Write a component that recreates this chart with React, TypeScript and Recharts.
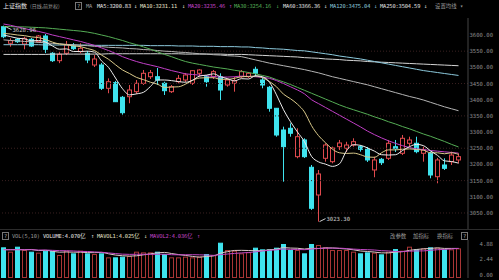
import { ComposedChart, Bar, Line, XAxis, YAxis, ReferenceLine, ReferenceDot } from 'recharts';

// daily candles, 上证指数
const opens = [
  3625.6, 3574.4, 3586.7, 3572.2, 3586.7, 3579.3, 3596.9, 3543.5, 3520.6, 3543.5,
  3566.0, 3548.4, 3543.5, 3507.3, 3507.3, 3435.3, 3452.6, 3407.5, 3409.3, 3424.8,
  3450.7, 3471.1, 3471.1, 3450.7, 3424.8, 3455.7, 3460.9, 3450.7, 3481.6, 3471.1,
  3471.1, 3471.1, 3445.5, 3450.7, 3471.1, 3471.1, 3494.0, 3461.0, 3438.4, 3373.5,
  3306.4, 3311.7, 3224.0, 3275.6, 3191.2, 3105.6, 3219.0, 3208.5, 3254.8, 3250.0,
  3260.0, 3254.8, 3246.8, 3182.9, 3215.9, 3219.0, 3254.8, 3234.5, 3265.4, 3265.4,
  3234.5, 3234.5, 3162.1, 3198.3, 3208.5, 3213.8,
];
const highs = [
  3628.96, 3589.8, 3590.7, 3594.7, 3590.7, 3600.0, 3603.0, 3547.0, 3547.0, 3581.5,
  3575.0, 3574.4, 3550.6, 3538.0, 3513.5, 3466.0, 3458.0, 3411.5, 3445.5, 3461.0,
  3491.8, 3491.8, 3498.0, 3455.7, 3445.5, 3476.4, 3482.6, 3491.8, 3494.0, 3476.4,
  3491.8, 3481.6, 3466.0, 3471.0, 3491.8, 3485.7, 3502.0, 3471.0, 3442.4, 3374.4,
  3316.7, 3327.0, 3311.7, 3280.8, 3198.3, 3182.8, 3265.4, 3255.0, 3275.6, 3270.0,
  3280.8, 3260.0, 3254.0, 3224.0, 3220.0, 3275.6, 3275.6, 3291.0, 3285.7, 3285.7,
  3254.8, 3239.5, 3220.0, 3219.0, 3239.5, 3234.5,
];
const lows = [
  3590.0, 3563.8, 3575.3, 3555.8, 3563.0, 3576.0, 3544.0, 3516.6, 3513.0, 3538.0,
  3553.6, 3543.5, 3513.0, 3501.0, 3430.0, 3420.0, 3393.0, 3353.7, 3389.0, 3417.7,
  3445.5, 3464.0, 3445.5, 3414.6, 3420.8, 3450.7, 3454.8, 3445.5, 3471.0, 3440.3,
  3464.0, 3399.0, 3440.3, 3424.8, 3467.0, 3467.0, 3471.0, 3435.3, 3363.0, 3285.7,
  3146.7, 3285.7, 3219.0, 3220.0, 3059.3, 3023.3, 3208.5, 3203.5, 3244.6, 3238.0,
  3254.8, 3239.5, 3207.6, 3160.4, 3198.3, 3213.8, 3238.5, 3229.0, 3254.8, 3234.5,
  3208.5, 3157.2, 3141.8, 3182.8, 3198.3, 3203.5,
];
const closes = [
  3594.7, 3582.4, 3579.3, 3589.8, 3566.0, 3596.9, 3555.8, 3520.6, 3540.4, 3569.0,
  3557.7, 3558.9, 3522.8, 3525.8, 3435.3, 3455.7, 3393.9, 3359.9, 3430.0, 3450.7,
  3481.6, 3483.5, 3460.9, 3427.9, 3440.3, 3466.0, 3476.4, 3489.7, 3491.8, 3455.7,
  3486.6, 3430.0, 3461.0, 3458.9, 3486.6, 3481.6, 3481.6, 3445.5, 3373.5, 3291.0,
  3255.0, 3296.3, 3285.7, 3224.0, 3064.5, 3170.5, 3260.0, 3250.8, 3266.3, 3260.0,
  3270.3, 3246.8, 3213.8, 3213.8, 3205.4, 3265.4, 3250.0, 3280.8, 3275.6, 3239.5,
  3244.6, 3167.4, 3213.8, 3188.0, 3229.0, 3224.0,
];

const ma5 = [
  3600, 3595, 3590, 3588, 3582, 3583, 3578, 3566, 3556, 3557,
  3549, 3549, 3550, 3547, 3520, 3500, 3467, 3434, 3415, 3418,
  3423, 3441, 3461, 3461, 3459, 3456, 3454, 3460, 3473, 3476,
  3480, 3471, 3465, 3458, 3465, 3464, 3474, 3471, 3454, 3415,
  3369, 3332, 3300, 3270, 3225, 3208, 3201, 3194, 3202, 3242,
  3261, 3259, 3251, 3241, 3230, 3229, 3230, 3243, 3255, 3262,
  3258, 3242, 3228, 3211, 3209, 3204,
];
const ma10 = [
  3605, 3603, 3600, 3598, 3594, 3592, 3586, 3578, 3572, 3570,
  3566, 3564, 3558, 3552, 3538, 3525, 3508, 3492, 3481, 3469,
  3462, 3454, 3448, 3438, 3439, 3440, 3448, 3460, 3467, 3468,
  3468, 3463, 3463, 3466, 3471, 3472, 3473, 3468, 3456, 3440,
  3417, 3403, 3386, 3362, 3320, 3289, 3267, 3247, 3236, 3234,
  3235, 3230, 3223, 3222, 3236, 3245, 3245, 3247, 3248, 3246,
  3244, 3236, 3236, 3233, 3236, 3231,
];
const ma20 = [
  3634, 3630, 3625, 3620, 3615, 3611, 3606, 3600, 3595, 3590,
  3585, 3580, 3574, 3568, 3560, 3552, 3543, 3533, 3525, 3518,
  3512, 3507, 3502, 3496, 3490, 3485, 3480, 3478, 3476, 3474,
  3472, 3470, 3470, 3471, 3473, 3472, 3471, 3469, 3466, 3459,
  3450, 3440, 3430, 3418, 3400, 3388, 3376, 3364, 3352, 3340,
  3328, 3316, 3303, 3292, 3282, 3273, 3265, 3258, 3252, 3248,
  3246, 3243, 3241, 3239, 3237, 3235,
];
const ma30 = [
  3626, 3626, 3625, 3625, 3624, 3623, 3622, 3620, 3618, 3616,
  3614, 3612, 3609, 3605, 3600, 3595, 3589, 3583, 3576, 3570,
  3563, 3556, 3548, 3540, 3533, 3525, 3518, 3513, 3509, 3505,
  3501, 3498, 3495, 3491, 3488, 3484, 3480, 3475, 3470, 3462,
  3455, 3447, 3438, 3429, 3420, 3411, 3402, 3393, 3384, 3376,
  3369, 3362, 3355, 3347, 3340, 3332, 3325, 3317, 3310, 3302,
  3294, 3287, 3279, 3271, 3262, 3254,
];
const ma60 = [
  3585, 3583, 3582, 3580, 3579, 3577, 3576, 3574, 3573, 3571,
  3570, 3568, 3567, 3565, 3564, 3562, 3561, 3560, 3558, 3557,
  3555, 3554, 3552, 3550, 3549, 3547, 3546, 3544, 3542, 3541,
  3539, 3538, 3536, 3535, 3533, 3528, 3523, 3518, 3513, 3509,
  3505, 3501, 3497, 3493, 3488, 3483, 3477, 3471, 3466, 3461,
  3456, 3451, 3446, 3440, 3434, 3428, 3422, 3416, 3410, 3405,
  3399, 3392, 3385, 3378, 3372, 3366,
];
const ma120 = [
  3570, 3570, 3570, 3570, 3570, 3570, 3569, 3569, 3569, 3569,
  3569, 3569, 3569, 3568, 3568, 3568, 3568, 3568, 3568, 3568,
  3568, 3567, 3567, 3567, 3567, 3566, 3566, 3566, 3565, 3565,
  3565, 3564, 3564, 3564, 3563, 3563, 3561, 3560, 3558, 3557,
  3556, 3554, 3552, 3551, 3548, 3545, 3542, 3539, 3535, 3532,
  3529, 3526, 3522, 3518, 3514, 3510, 3506, 3502, 3498, 3494,
  3490, 3487, 3484, 3481, 3478, 3475,
];
const ma250 = [
  3540, 3540, 3540, 3540, 3540, 3540, 3540, 3541, 3541, 3541,
  3541, 3541, 3541, 3541, 3541, 3542, 3542, 3542, 3542, 3542,
  3542, 3542, 3542, 3542, 3542, 3542, 3541, 3541, 3541, 3541,
  3541, 3541, 3540, 3540, 3540, 3539, 3538, 3537, 3536, 3535,
  3534, 3533, 3532, 3530, 3529, 3528, 3526, 3525, 3524, 3522,
  3521, 3520, 3518, 3517, 3516, 3515, 3514, 3513, 3512, 3511,
  3510, 3509, 3508, 3507, 3506, 3505,
];

// volume (亿)
const volumes = [
  4.99, 4.28, 5.09, 4.55, 4.28, 4.12, 4.44, 4.39, 3.74, 4.44,
  4.01, 4.44, 4.01, 3.90, 4.01, 3.36, 3.36, 3.47, 3.58, 4.28,
  4.17, 4.17, 4.28, 3.90, 3.36, 3.36, 3.47, 3.36, 3.47, 3.90,
  3.74, 5.74, 4.55, 4.44, 4.01, 4.20, 4.93, 4.66, 4.66, 4.93,
  5.53, 4.55, 4.55, 4.01, 5.53, 5.37, 4.99, 4.55, 4.55, 4.55,
  4.28, 4.01, 4.17, 4.12, 3.85, 4.28, 4.71, 4.44, 5.09, 4.66,
  4.82, 4.99, 4.93, 4.66, 4.66, 4.82,
];
const mavol1 = [
  4.60, 4.60, 4.60, 4.60, 4.64, 4.46, 4.50, 4.36, 4.20, 4.23,
  4.20, 4.20, 4.13, 4.12, 4.16, 3.94, 3.73, 3.62, 3.56, 3.61,
  3.77, 3.93, 4.10, 4.16, 3.98, 3.81, 3.67, 3.51, 3.40, 3.51,
  3.59, 4.04, 4.28, 4.48, 4.50, 4.47, 4.43, 4.45, 4.60, 4.68,
  4.94, 4.87, 4.84, 4.71, 4.83, 4.80, 4.89, 4.89, 4.80, 4.72,
  4.58, 4.39, 4.31, 4.22, 4.09, 4.08, 4.22, 4.28, 4.50, 4.64,
  4.74, 4.80, 4.90, 4.81, 4.81, 4.81,
];
const mavol2 = [
  4.60, 4.60, 4.60, 4.60, 4.60, 4.55, 4.55, 4.50, 4.45, 4.43,
  4.40, 4.33, 4.31, 4.24, 4.19, 4.08, 3.97, 3.88, 3.84, 3.86,
  3.86, 3.84, 3.86, 3.86, 3.79, 3.77, 3.78, 3.79, 3.77, 3.73,
  3.68, 3.80, 3.90, 4.00, 4.08, 4.14, 4.25, 4.40, 4.50, 4.58,
  4.72, 4.66, 4.64, 4.60, 4.71, 4.79, 4.85, 4.85, 4.85, 4.78,
  4.70, 4.64, 4.60, 4.55, 4.44, 4.40, 4.30, 4.30, 4.36, 4.40,
  4.41, 4.51, 4.60, 4.65, 4.73, 4.81,
];

const priceTicks = [3050, 3100, 3150, 3200, 3250, 3300, 3350, 3400, 3450, 3500, 3550, 3600];
const gridLevels = [3050, 3150, 3250, 3350, 3450, 3550];
const volTicks = [0, 2.44, 4.88];

const CYAN = '#3fe3ee';
const RED = '#e04a4e';
const VOL_RED = '#a83535';
const MONO = '"DejaVu Sans Mono", "Noto Sans CJK SC", monospace';
const CJK = '"Noto Sans CJK SC", "DejaVu Sans", sans-serif';

const rows = closes.map((c, i) => ({
  i,
  open: opens[i],
  high: highs[i],
  low: lows[i],
  close: c,
  range: [lows[i], highs[i]],
  ma5: ma5[i],
  ma10: ma10[i],
  ma20: ma20[i],
  ma30: ma30[i],
  ma60: ma60[i],
  ma120: ma120[i],
  ma250: ma250[i],
  vol: volumes[i],
  mavol1: mavol1[i],
  mavol2: mavol2[i],
}));

function Candle(props: any) {
  const { x, y, width, height, payload } = props;
  const { open, close, high, low } = payload;
  const top = Math.min(y, y + height);
  const h = Math.abs(height);
  const py = (p: number) => top + ((high - p) / (high - low)) * h;
  const left = Math.round(x);
  const cx = left + 2.5;
  const up = close >= open;
  const color = up ? RED : CYAN;
  const bTop = py(Math.max(open, close));
  const bh = Math.max(1, py(Math.min(open, close)) - bTop);
  return (
    <g>
      <line x1={cx} x2={cx} y1={top} y2={top + h} stroke={color} strokeWidth={1} />
      <rect x={left + 0.5} y={bTop} width={width - 1} height={bh} fill={up ? '#000' : CYAN} stroke={color} strokeWidth={1} />
    </g>
  );
}

function VolBar(props: any) {
  const { x, y, width, height, payload } = props;
  const up = payload.close >= payload.open;
  const left = Math.round(x);
  return (
    <rect
      x={left + 0.5}
      y={y + 0.5}
      width={width - 1}
      height={Math.max(1, height - 1)}
      fill={up ? '#000' : CYAN}
      stroke={up ? VOL_RED : CYAN}
      strokeWidth={1}
    />
  );
}

const PriceTick = ({ x, y, payload }: any) => (
  <text x={x + 23} y={y + 2} textAnchor="end" fill="#8a8a8a" fontSize={5.6} fontFamily={MONO}>
    {payload.value.toFixed(2)}
  </text>
);

const VolTick = ({ x, y, payload }: any) => (
  <text x={x + 23} y={y - 1.5} textAnchor="end" fill="#8a8a8a" fontSize={5.6} fontFamily={MONO}>
    {payload.value.toFixed(2)}
  </text>
);

function HeaderBox({ x, y }: { x: number; y: number }) {
  return (
    <g>
      <rect x={x + 0.5} y={y + 0.5} width={6} height={7} fill="none" stroke="#777" />
      <text x={x + 3.5} y={y + 6} textAnchor="middle" fill="#aaa" fontSize={5.5} fontFamily={MONO}>?</text>
    </g>
  );
}

export default function App() {
  return (
    <div style={{ position: 'absolute', left: 0, top: 0, width: 499, height: 280, background: '#000', overflow: 'hidden' }}>
      <div style={{ position: 'absolute', left: 0, top: 0 }}>
        <ComposedChart width={499} height={230} data={rows} margin={{ top: 18, right: 0, bottom: 1, left: 0 }}>
          <XAxis dataKey="i" hide padding={{ left: 0, right: 6 }} />
          <YAxis
            orientation="right"
            width={31}
            domain={[3000.5, 3652.5]}
            allowDataOverflow
            ticks={priceTicks}
            interval={0}
            tickLine={false}
            tickSize={0}
            axisLine={{ stroke: '#444' }}
            tick={<PriceTick />}
          />
          {gridLevels.map((lv) => (
            <ReferenceLine key={lv} y={lv} stroke="#3a2020" strokeDasharray="1 2" />
          ))}
          <Bar dataKey="range" barSize={5} shape={<Candle />} isAnimationActive={false} />
          <Line type="monotone" dataKey="ma250" stroke="#d4d4d4" strokeWidth={1} dot={false} isAnimationActive={false} />
          <Line type="monotone" dataKey="ma120" stroke="#8cc9dc" strokeWidth={1} dot={false} isAnimationActive={false} />
          <Line type="monotone" dataKey="ma60" stroke="#b4b4b4" strokeWidth={1} dot={false} isAnimationActive={false} />
          <Line type="monotone" dataKey="ma30" stroke="#55ad55" strokeWidth={1} dot={false} isAnimationActive={false} />
          <Line type="monotone" dataKey="ma20" stroke="#c03fc6" strokeWidth={1} dot={false} isAnimationActive={false} />
          <Line type="monotone" dataKey="ma10" stroke="#d9c98a" strokeWidth={1} dot={false} isAnimationActive={false} />
          <Line type="monotone" dataKey="ma5" stroke="#ececec" strokeWidth={1} dot={false} isAnimationActive={false} />
          <ReferenceDot
            x={0}
            y={highs[0]}
            r={0}
            shape={(p: any) => (
              <g>
                <line x1={p.cx + 2} y1={p.cy + 1} x2={p.cx + 8} y2={p.cy + 4} stroke="#cfcfcf" />
                <text x={p.cx + 9} y={p.cy + 6} fill="#cfcfcf" fontSize={5.6} fontFamily={MONO}>3628.96</text>
              </g>
            )}
          />
          <ReferenceDot
            x={45}
            y={lows[45]}
            r={0}
            shape={(p: any) => (
              <g>
                <line x1={p.cx + 1} y1={p.cy} x2={p.cx + 7} y2={p.cy - 3} stroke="#cfcfcf" />
                <text x={p.cx + 8} y={p.cy - 1} fill="#cfcfcf" fontSize={5.6} fontFamily={MONO}>3023.30</text>
              </g>
            )}
          />
        </ComposedChart>
      </div>

      <div style={{ position: 'absolute', left: 0, top: 229 }}>
        <ComposedChart width={499} height={51} data={rows} margin={{ top: 11, right: 0, bottom: 2, left: 0 }}>
          <XAxis dataKey="i" hide padding={{ left: 0, right: 6 }} />
          <YAxis
            orientation="right"
            width={31}
            domain={[0, 6.18]}
            allowDataOverflow
            ticks={volTicks}
            interval={0}
            tickLine={false}
            tickSize={0}
            axisLine={{ stroke: '#444' }}
            tick={<VolTick />}
          />
          <Bar dataKey="vol" barSize={5} shape={<VolBar />} isAnimationActive={false} />
          <Line type="monotone" dataKey="mavol1" stroke="#dcc8c8" strokeWidth={1} dot={false} isAnimationActive={false} />
          <Line type="monotone" dataKey="mavol2" stroke="#c048c4" strokeWidth={1} dot={false} isAnimationActive={false} />
        </ComposedChart>
      </div>

      <svg width={499} height={280} style={{ position: 'absolute', left: 0, top: 0, pointerEvents: 'none' }}>
        <line x1={0} x2={499} y1={229.5} y2={229.5} stroke="#2c2c2c" />
        <g fontSize={5.4} fontFamily={MONO} letterSpacing={-0.15}>
          <text x={3} y={8} fill="#e6e6e6" fontFamily={CJK} fontSize={6} letterSpacing={0}>上证指数</text>
          <text x={30} y={8} fill="#9a9a9a" fontFamily={CJK} fontSize={5} letterSpacing={0}>(日线,前复权)</text>
          <HeaderBox x={75} y={2} />
          <text x={86} y={8} fill="#9a9a9a">MA</text>
          <text x={97} y={8} fill="#e6e6e6">MA5:3200.83</text>
          <text x={134} y={8} fill="#e6e6e6">↓</text>
          <text x={140} y={8} fill="#e6e2c8">MA10:3231.11</text>
          <text x={182} y={8} fill="#e6e2c8">↓</text>
          <text x={188} y={8} fill="#c445c8">MA20:3235.46</text>
          <text x={229} y={8} fill="#c445c8">↑</text>
          <text x={234} y={8} fill="#55ad55">MA30:3254.16</text>
          <text x={276} y={8} fill="#55ad55">↓</text>
          <text x={283} y={8} fill="#e0e0e0">MA60:3366.36</text>
          <text x={324} y={8} fill="#e0e0e0">↓</text>
          <text x={330} y={8} fill="#8cc9dc">MA120:3475.04</text>
          <text x={374} y={8} fill="#8cc9dc">↓</text>
          <text x={380} y={8} fill="#e0e0e0">MA250:3504.59</text>
          <text x={424} y={8} fill="#e0e0e0">↓</text>
          <text x={435} y={8} fill="#9a9a9a" fontFamily={CJK} letterSpacing={0}>设置均线</text>
          <text x={460} y={8} fill="#9a9a9a">▾</text>

          <HeaderBox x={2} y={232} />
          <text x={12} y={238} fill="#9a9a9a">VOL(5,10)</text>
          <text x={43} y={238} fill="#e6e6e6">VOLUME:4.070亿</text>
          <text x={91} y={238} fill="#e6e6e6">↑</text>
          <text x={97} y={238} fill="#e6e2c8">MAVOL1:4.025亿</text>
          <text x={144} y={238} fill="#e6e2c8">↓</text>
          <text x={150} y={238} fill="#c445c8">MAVOL2:4.036亿</text>
          <text x={197} y={238} fill="#c445c8">↑</text>
          <text x={390} y={238} fill="#9a9a9a" fontFamily={CJK} letterSpacing={0}>改参数</text>
          <text x={413} y={238} fill="#9a9a9a" fontFamily={CJK} letterSpacing={0}>加指标</text>
          <text x={437} y={238} fill="#9a9a9a" fontFamily={CJK} letterSpacing={0}>换指标</text>
          <HeaderBox x={461} y={232} />
        </g>
      </svg>
    </div>
  );
}
